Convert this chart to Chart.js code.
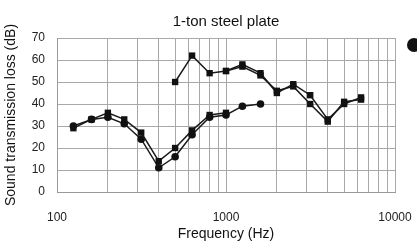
<!DOCTYPE html>
<html>
<head>
<meta charset="utf-8">
<script src="https://cdn.jsdelivr.net/npm/chart.js@4"></script>
<style>
  html, body { margin: 0; padding: 0; background: #fff; }
  #wrap { position: relative; width: 417px; height: 245px; }
  #dot { position: absolute; left: 407px; top: 38px; width: 14px; height: 14px; border-radius: 50%; background: #111; }
</style>
</head>
<body>
<div id="wrap">
  <canvas id="stlChart" width="417" height="245"></canvas>
  <div id="dot"></div>
</div>
<script>
// 1/3-octave band centre frequencies (Hz)
const freqs = [125, 160, 200, 250, 315, 400, 500, 630, 800, 1000, 1250, 1600, 2000, 2500, 3150, 4000, 5000, 6300];

// lower curves
const lowCircles = [30, 33, 34, 31, 24, 11, 16, 26, 34, 35, 39, 40, null, null, null, null, null, null];
const lowSquares = [29, 33, 36, 33, 27, 14, 20, 28, 35, 36, null, null, null, null, null, null, null, null];
// upper curves
const upperA = [null, null, null, null, null, null, 50, 62, 54, 55, 58, 54, 45, 49, 44, 33, 40, 43];
const upperB = [null, null, null, null, null, null, null, null, null, 55, 57, 53, 46, 48, 40, 32, 41, 42];

const xTickLabels = [100, 1000, 10000];
const yTicks = [0, 10, 20, 30, 40, 50, 60, 70];
const chartTitle = '1-ton steel plate';

function pts(arr) {
    return freqs.map((f, i) => ({ x: f, y: arr[i] }));
}

// gridlines at 1..9 x 10^n
const gridVals = [];
for (let d = 100; d < 10000; d *= 10) {
    for (let k = 1; k < 10; k++) gridVals.push(k * d);
}
gridVals.push(10000);

function series(data, style, radius) {
    return {
        data: pts(data),
        borderColor: '#1a1a1a',
        backgroundColor: '#111',
        borderWidth: 1.5,
        pointStyle: style,
        pointRadius: radius,
        pointBorderWidth: 0,
        spanGaps: false,
        tension: 0
    };
}

// title centred over the plot area, not the whole canvas
const plotTitle = {
    id: 'plotTitle',
    afterDraw(chart) {
        const c = chart.ctx;
        const a = chart.chartArea;
        c.save();
        c.font = '15px "Liberation Sans"';
        c.fillStyle = '#111';
        c.textAlign = 'center';
        c.textBaseline = 'middle';
        c.fillText(chartTitle, (a.left + a.right) / 2, 22);
        c.restore();
    }
};

const ctx = document.getElementById('stlChart').getContext('2d');
const chart = new Chart(ctx, {
    type: 'line',
    data: {
        datasets: [
            series(lowSquares, 'rect', 4.5),
            series(lowCircles, 'circle', 3.8),
            series(upperB, 'rect', 4.5),
            series(upperA, 'rect', 4.5)
        ]
    },
    plugins: [plotTitle],
    options: {
        responsive: false,
        animation: false,
        layout: { padding: { left: 0, right: 22, top: 38, bottom: 0 } },
        plugins: {
            legend: { display: false },
            tooltip: { enabled: false },
            title: { display: false }
        },
        scales: {
            x: {
                type: 'logarithmic',
                min: 100,
                max: 10000,
                afterBuildTicks: function(scale) {
                    scale.ticks = gridVals.map(v => ({ value: v }));
                },
                afterFit: function(scale) {
                    scale.height = 53;
                    scale.paddingLeft = 0;
                    scale.paddingRight = 0;
                },
                ticks: {
                    autoSkip: false,
                    maxRotation: 0,
                    padding: 18,
                    color: '#222',
                    font: { family: 'Liberation Sans', size: 12 },
                    callback: function(v) {
                        return xTickLabels.includes(v) ? String(v) : '';
                    }
                },
                grid: { color: '#a8a8a8', lineWidth: 1, drawTicks: false },
                border: { color: '#999', width: 1 },
                title: {
                    display: true,
                    text: 'Frequency (Hz)',
                    color: '#111',
                    font: { family: 'Liberation Sans', size: 14 },
                    padding: { top: 0, bottom: 2 }
                }
            },
            y: {
                min: 0,
                max: 70,
                afterBuildTicks: function(scale) {
                    scale.ticks = yTicks.map(v => ({ value: v }));
                },
                afterFit: function(scale) {
                    scale.width = 57;
                    scale.paddingTop = 0;
                    scale.paddingBottom = 0;
                },
                ticks: {
                    padding: 12,
                    color: '#222',
                    font: { family: 'Liberation Sans', size: 12 }
                },
                grid: { color: '#a8a8a8', lineWidth: 1, drawTicks: false },
                border: { color: '#999', width: 1 },
                title: {
                    display: true,
                    text: 'Sound transmission loss (dB)',
                    color: '#111',
                    font: { family: 'Liberation Sans', size: 14 },
                    padding: { top: 3, bottom: 0 }
                }
            }
        }
    }
});
</script>
</body>
</html>
